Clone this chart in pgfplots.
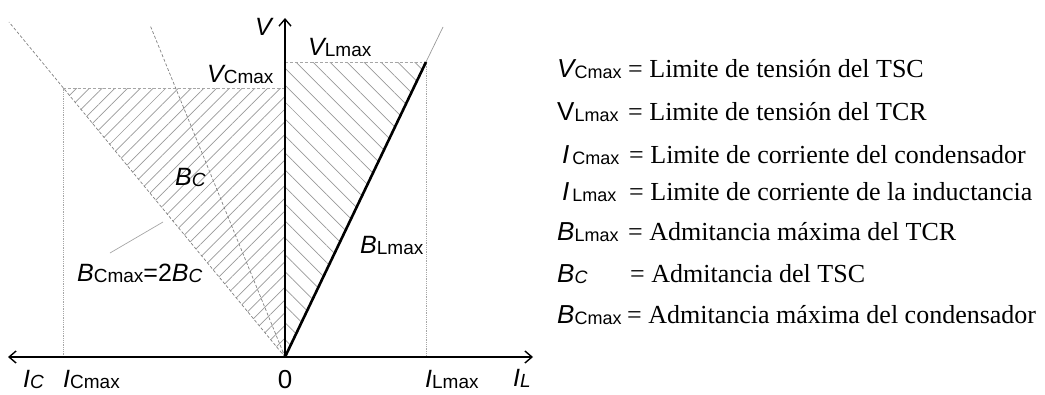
\documentclass[border=0pt]{standalone}
\usepackage{pgfplots}
\pgfplotsset{compat=1.18}
\usepackage{fontspec}
\setmainfont{Liberation Serif}
\newfontfamily\hv{Liberation Sans}
\usetikzlibrary{arrows.meta,patterns.meta}
\newcommand{\bigf}{\fontsize{25bp}{28bp}\selectfont}
\newcommand{\smf}{\fontsize{19bp}{21bp}\selectfont}
\newcommand{\lsmf}{\fontsize{18bp}{20bp}\selectfont}
\newcommand{\legf}{\fontsize{26bp}{30bp}\selectfont}
\newcommand{\lgf}{\fontsize{26bp}{29bp}\selectfont}
\newcommand{\sym}[2]{{\hv\bigf\itshape #1}\raisebox{-0.4ex}{\hv\smf #2}}
\newcommand{\lsym}[2]{{\hv\legf\itshape #1}\raisebox{-0.4ex}{\hv\lsmf #2}}
\begin{document}
\begin{tikzpicture}
\begin{axis}[x=1bp,y=1bp,xmin=-285,xmax=760,ymin=-37,ymax=357,hide axis,clip=false]
% frame for bounding box
\addplot[draw=none] coordinates {(-285,-37) (760,357)};
% hatched regions
\addplot[draw=none,pattern={Lines[angle=45,distance=9bp,line width=0.7bp]},pattern color=gray!80] coordinates {(0,0) (-222,269) (0,269) (0,0)};
\addplot[draw=none,pattern={Lines[angle=-45,distance=12bp,line width=0.7bp]},pattern color=gray!80] coordinates {(0,0) (0,295) (141,295) (0,0)};
% dotted limits
\addplot[gray!70,densely dotted,line width=0.8bp] coordinates {(-222,0) (-222,269)};
\addplot[gray!70,densely dashed,line width=0.6bp] coordinates {(-222,269) (0,269)};
\addplot[gray!70,densely dashed,line width=0.6bp] coordinates {(0,295) (141,295)};
\addplot[gray!70,densely dotted,line width=0.8bp] coordinates {(141,295) (141,0)};
% admittance lines
\addplot[gray,densely dashed,line width=0.7bp] coordinates {(0,0) (-276,335)};
\addplot[gray,densely dashed,line width=0.7bp] coordinates {(0,0) (-135,332)};
\addplot[black,line width=2.6bp] coordinates {(0,0) (141,295)};
\addplot[gray!80,line width=0.7bp] coordinates {(141,295) (158,330)};
% leader
\addplot[gray!70,line width=0.7bp] coordinates {(-175,104) (-122,135)};
% axes
\addplot[black,line width=1.4bp,{Straight Barb[length=7bp,width=12bp]}-{Straight Barb[length=7bp,width=12bp]}] coordinates {(-277,0) (248,0)};
\addplot[black,line width=1.4bp,-{Straight Barb[length=7bp,width=12bp]}] coordinates {(0,0) (0,339)};
% labels
\node[anchor=base west,inner sep=0] at (axis cs:-30,322) {{\hv\bigf\itshape V}};
\node[anchor=base west,inner sep=0] at (axis cs:-78,275) {\sym{V}{Cmax}};
\node[anchor=base west,inner sep=0] at (axis cs:23,302) {\sym{V}{Lmax}};
\node[anchor=base west,inner sep=0] at (axis cs:-110,172) {\sym{B}{\itshape C}};
\node[anchor=base west,inner sep=0] at (axis cs:-208,76) {\sym{B}{Cmax}{\hv\bigf=2}\sym{B}{\itshape C}};
\node[anchor=base west,inner sep=0] at (axis cs:75,104) {\sym{B}{Lmax}};
\node[anchor=base,inner sep=0] at (axis cs:0,-31) {{\hv\fontsize{26bp}{28bp}\selectfont 0}};
\node[anchor=base west,inner sep=0] at (axis cs:-262,-30) {\sym{I}{\itshape C}};
\node[anchor=base west,inner sep=0] at (axis cs:-222,-30) {\sym{I}{Cmax}};
\node[anchor=base west,inner sep=0] at (axis cs:140,-30) {\sym{I}{Lmax}};
\node[anchor=base west,inner sep=0] at (axis cs:228,-29) {\sym{I}{\itshape L}};
% legend
\node[anchor=base west,inner sep=0] at (axis cs:272,280) {\lsym{V}{Cmax}};
\node[anchor=base west,inner sep=0] at (axis cs:343,280) {\lgf = Limite de tensión del TSC};
\node[anchor=base west,inner sep=0] at (axis cs:272,237) {{\hv\legf V}\raisebox{-0.4ex}{\hv\lsmf Lmax}};
\node[anchor=base west,inner sep=0] at (axis cs:343,237) {\lgf = Limite de tensión del TCR};
\node[anchor=base west,inner sep=0] at (axis cs:277,194) {\lsym{I}{\,Cmax}};
\node[anchor=base west,inner sep=0] at (axis cs:344,194) {\lgf = Limite de corriente del condensador};
\node[anchor=base west,inner sep=0] at (axis cs:277,157) {\lsym{I}{\,Lmax}};
\node[anchor=base west,inner sep=0] at (axis cs:344,157) {\lgf = Limite de corriente de la inductancia};
\node[anchor=base west,inner sep=0] at (axis cs:272,117) {\lsym{B}{Lmax}};
\node[anchor=base west,inner sep=0] at (axis cs:343,117) {\lgf = Admitancia máxima del TCR};
\node[anchor=base west,inner sep=0] at (axis cs:272,75) {\lsym{B}{\itshape C}};
\node[anchor=base west,inner sep=0] at (axis cs:345,75) {\lgf = Admitancia del TSC};
\node[anchor=base west,inner sep=0] at (axis cs:272,34) {\lsym{B}{Cmax}};
\node[anchor=base west,inner sep=0] at (axis cs:342,34) {\lgf = Admitancia máxima del condensador};
\end{axis}
\end{tikzpicture}
\end{document}
